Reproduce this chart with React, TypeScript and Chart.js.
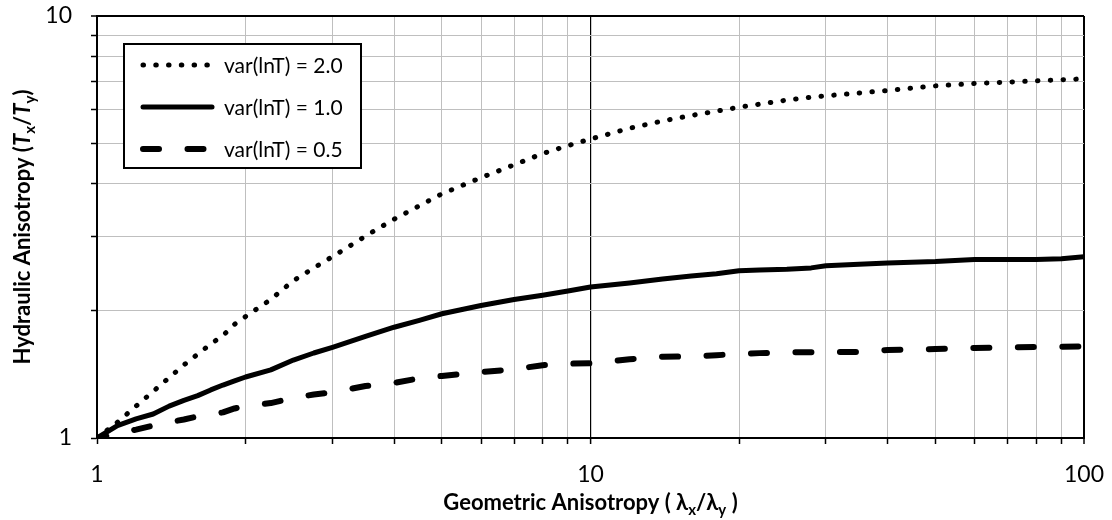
import React, { useEffect, useRef } from 'react';
import { Chart, registerables } from 'chart.js';

Chart.register(...registerables);

// ---- data ----
const xValues = [1, 1.1, 1.2, 1.3, 1.4, 1.5, 1.6, 1.7, 1.8, 1.9, 2, 2.25, 2.5, 2.75, 3, 3.5, 4, 4.5, 5, 6, 7, 8, 9, 10, 12, 14, 16, 18, 20, 22, 25, 28, 30, 35, 40, 50, 60, 70, 80, 90, 100];
const var20 = [1.0, 1.09, 1.19, 1.29, 1.39, 1.49, 1.58, 1.67, 1.75, 1.86, 1.94, 2.13, 2.36, 2.53, 2.69, 3.01, 3.30, 3.55, 3.79, 4.14, 4.44, 4.72, 4.93, 5.11, 5.42, 5.64, 5.81, 5.95, 6.08, 6.18, 6.32, 6.42, 6.47, 6.57, 6.66, 6.83, 6.92, 6.97, 7.02, 7.06, 7.10];
const var10 = [1.0, 1.07, 1.11, 1.14, 1.19, 1.228, 1.26, 1.30, 1.335, 1.366, 1.395, 1.45, 1.53, 1.59, 1.64, 1.74, 1.83, 1.90, 1.97, 2.06, 2.13, 2.18, 2.23, 2.28, 2.33, 2.38, 2.42, 2.45, 2.49, 2.50, 2.51, 2.53, 2.56, 2.58, 2.60, 2.62, 2.65, 2.65, 2.65, 2.66, 2.69];
const var05 = [1.0, 1.025, 1.047, 1.07, 1.09, 1.106, 1.125, 1.138, 1.15, 1.175, 1.19, 1.21, 1.245, 1.268, 1.283, 1.328, 1.35, 1.385, 1.403, 1.433, 1.455, 1.488, 1.50, 1.503, 1.537, 1.558, 1.56, 1.571, 1.582, 1.589, 1.596, 1.596, 1.597, 1.60, 1.617, 1.625, 1.635, 1.64, 1.643, 1.645, 1.648];
const seriesLabels = ['var(lnT) = 2.0', 'var(lnT) = 1.0', 'var(lnT) = 0.5'];

const xTickValues = [1, 2, 3, 4, 5, 6, 7, 8, 9, 10, 20, 30, 40, 50, 60, 70, 80, 90, 100];
const xTickLabels = ['1', '10', '100'];
const yTickValues = [1, 2, 3, 4, 5, 6, 7, 8, 9, 10];
const yTickLabels = ['1', '10'];

const FONT = 'Lato';
const GRID = '#bfbfbf';

type Seg = { t: string; italic?: boolean; sub?: boolean };
const xTitle: Seg[] = [
  { t: 'Geometric Anisotropy ( λ' }, { t: 'x', sub: true }, { t: '/λ' }, { t: 'y', sub: true }, { t: ' )' },
];
const yTitle: Seg[] = [
  { t: 'Hydraulic Anisotropy (' }, { t: 'T', italic: true }, { t: 'x', sub: true }, { t: '/' },
  { t: 'T', italic: true }, { t: 'y', sub: true }, { t: ')' },
];

function drawRich(ctx: CanvasRenderingContext2D, segs: Seg[], size: number) {
  const fontOf = (s: Seg) => `${s.italic ? 'italic ' : ''}bold ${s.sub ? Math.round(size * 0.68) : size}px ${FONT}`;
  let total = 0;
  const widths = segs.map((s) => {
    ctx.font = fontOf(s);
    const w = ctx.measureText(s.t).width;
    total += w;
    return w;
  });
  let x = -total / 2;
  const base = size * 0.35;
  ctx.textBaseline = 'alphabetic';
  ctx.textAlign = 'left';
  ctx.fillStyle = '#000';
  segs.forEach((s, i) => {
    ctx.font = fontOf(s);
    ctx.fillText(s.t, x, base + (s.sub ? size * 0.22 : 0));
    x += widths[i];
  });
}

const datasetStyles = [
  { borderWidth: 5, borderDash: [0.5, 12.27], borderDashOffset: 0, borderCapStyle: 'round' as const },
  { borderWidth: 5, borderDash: [] as number[], borderDashOffset: 0, borderCapStyle: 'round' as const },
  { borderWidth: 6, borderDash: [16, 28.5], borderDashOffset: 6.5, borderCapStyle: 'round' as const },
];

const overlayPlugin = {
  id: 'overlay',
  afterDraw(chart: any) {
    const ctx: CanvasRenderingContext2D = chart.ctx;
    const a = chart.chartArea;
    // axis titles
    ctx.save();
    ctx.translate((a.left + a.right) / 2, 502);
    drawRich(ctx, xTitle, 22);
    ctx.restore();
    ctx.save();
    ctx.translate(22, (a.top + a.bottom) / 2);
    ctx.rotate(-Math.PI / 2);
    drawRich(ctx, yTitle, 22);
    ctx.restore();

    // legend
    const lx = a.left + 27;
    const ly = a.top + 28;
    const lw = 237;
    const lh = 124;
    ctx.save();
    ctx.fillStyle = '#fff';
    ctx.fillRect(lx, ly, lw, lh);
    ctx.strokeStyle = '#000';
    ctx.lineWidth = 2;
    ctx.strokeRect(lx, ly, lw, lh);
    chart.data.datasets.forEach((ds: any, i: number) => {
      const cy = ly + 21 + i * 42;
      ctx.beginPath();
      ctx.strokeStyle = '#000';
      ctx.lineWidth = ds.borderWidth;
      ctx.lineCap = ds.borderCapStyle;
      ctx.setLineDash(ds.borderDash);
      ctx.lineDashOffset = 0;
      ctx.moveTo(lx + 19, cy);
      ctx.lineTo(lx + 88, cy);
      ctx.stroke();
      ctx.setLineDash([]);
      ctx.fillStyle = '#000';
      ctx.font = `21px ${FONT}`;
      ctx.textBaseline = 'middle';
      ctx.textAlign = 'left';
      ctx.fillText(ds.label, lx + 100, cy + 1);
    });
    ctx.restore();
  },
};

export default function App() {
  const ref = useRef<HTMLCanvasElement | null>(null);

  useEffect(() => {
    if (!ref.current) return;
    const seriesList = [var20, var10, var05];
    const chart = new Chart(ref.current, {
      type: 'line',
      data: {
        datasets: seriesList.map((ys, i) => ({
          label: seriesLabels[i],
          data: xValues.map((x, j) => ({ x, y: ys[j] })),
          borderColor: '#000',
          backgroundColor: '#000',
          pointRadius: 0,
          fill: false,
          tension: 0,
          borderJoinStyle: 'round' as const,
          ...datasetStyles[i],
        })),
      },
      options: {
        responsive: false,
        animation: false,
        layout: { padding: { left: 0, top: 16, right: 28, bottom: 0 } },
        plugins: { legend: { display: false }, tooltip: { enabled: false } },
        scales: {
          x: {
            type: 'logarithmic',
            min: 1,
            max: 100,
            afterBuildTicks: (s: any) => {
              s.ticks = xTickValues.map((v) => ({ value: v, major: xTickLabels.includes(String(v)) }));
            },
            afterFit: (s: any) => {
              s.height = 82;
              s.paddingLeft = 0;
              s.paddingRight = 0;
              s.paddingTop = 0;
              s.paddingBottom = 0;
            },
            ticks: {
              autoSkip: false,
              maxRotation: 0,
              minRotation: 0,
              padding: 17,
              color: '#000',
              font: { family: FONT, size: 23 },
              callback: (v: any) => (xTickLabels.includes(String(v)) ? String(v) : ''),
            },
            grid: {
              color: (c: any) => {
                const v = c.tick?.value;
                return v === 10 || v === 100 ? '#000' : GRID;
              },
              lineWidth: (c: any) => {
                const v = c.tick?.value;
                return v === 100 ? 2 : v === 10 ? 1.2 : 1;
              },
              tickColor: '#000',
              tickWidth: 1.5,
              tickLength: 6,
            },
            border: { display: true, color: '#000', width: 2 },
          },
          y: {
            type: 'logarithmic',
            min: 1,
            max: 10,
            afterBuildTicks: (s: any) => {
              s.ticks = yTickValues.map((v) => ({ value: v, major: yTickLabels.includes(String(v)) }));
            },
            afterFit: (s: any) => {
              s.width = 97;
              s.paddingLeft = 0;
              s.paddingRight = 0;
              s.paddingTop = 0;
              s.paddingBottom = 0;
            },
            ticks: {
              autoSkip: false,
              padding: 19,
              color: '#000',
              font: { family: FONT, size: 23 },
              callback: (v: any) => (yTickLabels.includes(String(v)) ? String(v) : ''),
            },
            grid: {
              color: (c: any) => (c.tick?.value === 10 ? '#000' : GRID),
              lineWidth: (c: any) => (c.tick?.value === 10 ? 2 : 1),
              tickColor: '#000',
              tickWidth: 1.5,
              tickLength: 6,
            },
            border: { display: true, color: '#000', width: 2 },
          },
        },
      },
      plugins: [overlayPlugin],
    });
    return () => chart.destroy();
  }, []);

  return (
    <div style={{ position: 'fixed', left: 0, top: 0, width: 1112, height: 520, background: '#fff' }}>
      <canvas ref={ref} width={1112} height={520} style={{ display: 'block', width: 1112, height: 520 }} />
    </div>
  );
}
